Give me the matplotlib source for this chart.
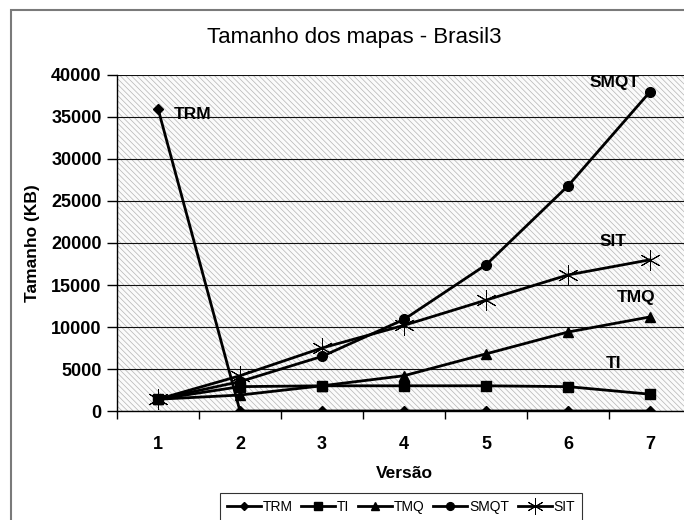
import numpy as np
import matplotlib
matplotlib.use('Agg')
import matplotlib.pyplot as plt
from matplotlib.patches import Rectangle

plt.rcParams['font.family'] = ['Liberation Sans', 'DejaVu Sans']
plt.rcParams['hatch.linewidth'] = 0.5

# data
versions = [1, 2, 3, 4, 5, 6, 7]
trm = [36000, 0, 0, 0, 0, 0, 0]
ti = [1400, 2900, 3000, 3000, 3000, 2900, 2000]
tmq = [1400, 1900, 3000, 4200, 6800, 9400, 11200]
smqt = [1400, 3500, 6500, 10900, 17400, 26800, 38000]
sit = [1400, 4200, 7500, 10200, 13200, 16200, 18000]

fig = plt.figure(figsize=(6.84, 5.2), dpi=100)
W, H = 684, 520
# plot area in pixels: left 117, top 75, bottom 411, 82 px per category
ax = fig.add_axes([117 / W, 1 - 411 / H, 574 / W, 336 / H])

# outer chart border
fig.patches.append(Rectangle((11 / W, -0.1), 1.2, 1.1 - 10 / H,
                             transform=fig.transFigure, fill=False,
                             edgecolor='#7a7a7a', linewidth=1.5))

# hatched plot background
ax.set_facecolor('#fbfbfb')
ax.add_patch(Rectangle((0, 0), 1, 1, transform=ax.transAxes, facecolor='none',
                       edgecolor='#b4b4b4', hatch='\\' * 6, linewidth=0, zorder=0))

lw = 2.0
ax.plot(versions, trm, color='black', lw=lw, marker='D', ms=5, label='TRM', zorder=3)
ax.plot(versions, ti, color='black', lw=lw, marker='s', ms=7, label='TI', zorder=3)
ax.plot(versions, tmq, color='black', lw=lw, marker='^', ms=7, label='TMQ', zorder=3)
ax.plot(versions, smqt, color='black', lw=lw, marker='o', ms=7, label='SMQT', zorder=3)
ax.plot(versions, sit, color='black', lw=lw, marker=(6, 2, 0), ms=15, mew=0.7,
        label='SIT', zorder=3)

ax.set_xlim(0.5, 7.5)
ax.set_ylim(0, 40000)
ax.set_yticks(np.arange(0, 40001, 5000))
ax.set_xticks(versions)
ax.set_xticks(np.arange(0.5, 8, 1), minor=True)
ax.yaxis.grid(True, color='#111111', linewidth=0.8)
ax.set_axisbelow(True)

for s in ['top', 'right']:
    ax.spines[s].set_visible(False)
ax.spines['left'].set_linewidth(1.0)
ax.spines['bottom'].set_linewidth(1.0)

ax.tick_params(axis='y', direction='out', length=7, width=1, pad=4,
               labelsize=13)
ax.tick_params(axis='x', which='major', length=0, pad=18, labelsize=13)
ax.tick_params(axis='x', which='minor', direction='out', length=6, width=1)
for lab in ax.get_xticklabels() + ax.get_yticklabels():
    lab.set_fontweight('bold')

ax.set_xlabel('Versão', fontsize=12.5, fontweight='bold')
ax.xaxis.set_label_coords(0.5, -0.163)
ax.set_ylabel('Tamanho (KB)', fontsize=12.5, fontweight='bold')
ax.yaxis.set_label_coords(-0.134, 0.5)

fig.text(354 / W, 1 - 37 / H, 'Tamanho dos mapas - Brasil3', ha='center',
         va='center', fontsize=16)

# series labels next to the lines
lab_kw = dict(fontsize=12.5, fontweight='bold', va='center', zorder=4)
ax.text(1.195, 35240, 'TRM', ha='left', **lab_kw)
ax.text(6.567, 39050, 'SMQT', ha='center', **lab_kw)
ax.text(6.555, 20120, 'SIT', ha='center', **lab_kw)
ax.text(6.835, 13570, 'TMQ', ha='center', **lab_kw)
ax.text(6.549, 5710, 'TI', ha='center', **lab_kw)

leg = fig.legend(loc='upper center', bbox_to_anchor=(401 / W, 1 - 493 / H),
                 ncol=5, fontsize=10, frameon=True, fancybox=False,
                 handlelength=2.45, handletextpad=0.15, columnspacing=0.6,
                 borderpad=0.5, borderaxespad=0, markerscale=0.8)
leg.get_frame().set_edgecolor('black')
leg.get_frame().set_linewidth(0.8)

plt.savefig('out.png', dpi=100)
